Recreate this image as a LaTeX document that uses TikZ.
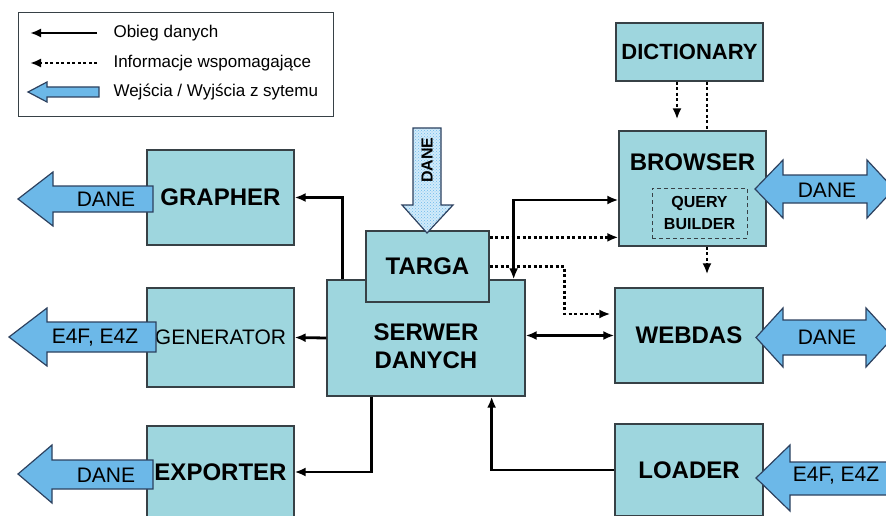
\documentclass[tikz,border=0pt]{standalone}
\usepackage{fontspec}
\setmainfont{Liberation Sans}
\usetikzlibrary{arrows.meta, patterns}

\definecolor{boxfill}{RGB}{158,214,222}
\definecolor{boxline}{RGB}{55,65,70}
\definecolor{iofill}{RGB}{108,184,232}
\definecolor{ioline}{RGB}{45,65,95}
\definecolor{iolight}{RGB}{210,235,250}
\definecolor{iodots}{RGB}{110,185,235}

\begin{document}
\begin{tikzpicture}[x=1pt, y=-1pt,
    >={Latex[length=11pt,width=9pt]},
    blocktext/.style={font=\fontsize{24}{28}\selectfont\bfseries, align=center},
    block/.style={draw=boxline, line width=1.3pt, fill=boxfill, inner sep=0pt, blocktext},
    flow/.style={line width=2.8pt, ->},
    info/.style={line width=2.8pt, dash pattern=on 3pt off 2.5pt, ->},
    io/.style={draw=ioline, line width=1.2pt, fill=iofill},
    iotext/.style={font=\fontsize{21}{24}\selectfont},
    legtext/.style={font=\fontsize{17}{20}\selectfont, anchor=west}]

    \useasboundingbox (0,0) rectangle (886,516);
    \clip (0,0) rectangle (886,516);

    % legend
    \node[draw=boxline, line width=1pt, minimum width=315pt, minimum height=104pt, inner sep=0pt] (legend) at (175.5,65) {};
    \coordinate (flowa) at (97,33);
    \coordinate (flowb) at (30,33);
    \coordinate (infoa) at (97,63);
    \coordinate (infob) at (30,63);
    \draw[flow] (flowa) -- (flowb);
    \draw[info] (infoa) -- (infob);
    \draw[io] (99,87) -- (47,87) -- (47,82) -- (28,92) -- (47,102) -- (47,97) -- (99,97) -- cycle;
    \node[legtext] (legflow) at (110,33) {Obieg danych};
    \node[legtext] (leginfo) at (110,63) {Informacje wspomagające};
    \node[legtext] (legio) at (110,92) {Wejścia / Wyjścia z sytemu};

    % blocks
    \node[block, minimum width=147pt, minimum height=95pt] (grapher) at (220.5,197.5) {GRAPHER};
    \node[block, minimum width=147pt, minimum height=99pt, font=\fontsize{21}{24}\selectfont] (generator) at (220.5,337.5) {GENERATOR};
    \node[block, minimum width=147pt, minimum height=92pt] (exporter) at (220.5,472) {EXPORTER};
    \node[block, minimum width=198pt, minimum height=116pt, label={[blocktext, yshift=-8pt]center:SERWER\\DANYCH}] (serwer) at (426,338) {};
    \node[block, minimum width=123pt, minimum height=71pt] (targa) at (427.5,266.5) {TARGA};
    \node[block, minimum width=147pt, minimum height=58pt, font=\fontsize{22}{26}\selectfont\bfseries] (dictionary) at (689.5,52) {DICTIONARY};
    \node[block, minimum width=147pt, minimum height=115pt, label={[blocktext, yshift=26.5pt]center:BROWSER}] (browser) at (692.5,188.5) {};
    \node[draw=boxline, dash pattern=on 4pt off 3pt, line width=1pt, minimum width=95pt, minimum height=50pt, inner sep=0pt, font=\fontsize{16}{22}\selectfont\bfseries, align=center] (query) at (699.5,213) {QUERY\\BUILDER};
    \node[block, minimum width=148pt, minimum height=95pt] (webdas) at (689,335.5) {WEBDAS};
    \node[block, minimum width=148pt, minimum height=92pt] (loader) at (689,470) {LOADER};

    % system inputs / outputs
    \draw[io] (153,186) -- (53,186) -- (53,172) -- (18,199) -- (53,226) -- (53,212) -- (153,212) -- cycle;
    \draw[io] (156,322) -- (47,322) -- (47,308) -- (9,337) -- (47,366) -- (47,352) -- (156,352) -- cycle;
    \draw[io] (153,460) -- (52,460) -- (52,445) -- (18,474) -- (52,503) -- (52,489) -- (153,489) -- cycle;
    \draw[io] (755,189) -- (783,160) -- (783,175) -- (867,175) -- (867,160) -- (894,189) -- (867,218) -- (867,203) -- (783,203) -- (783,218) -- cycle;
    \draw[io] (756,337.5) -- (783,308) -- (783,320) -- (866,320) -- (866,308) -- (893,337.5) -- (866,367) -- (866,355) -- (783,355) -- (783,367) -- cycle;
    \draw[io] (900,462) -- (790,462) -- (790,445) -- (756,478) -- (790,511) -- (790,495) -- (900,495) -- cycle;
    \draw[draw=ioline, line width=1.2pt, preaction={fill=iolight}, pattern=crosshatch dots, pattern color=iodots]
        (413,128) -- (441,128) -- (441,205) -- (453,205) -- (427,233) -- (402,205) -- (413,205) -- cycle;
    \node[iotext] (grapherio) at (106,199) {DANE};
    \node[iotext] (generatorio) at (95,338) {E4F, E4Z};
    \node[iotext] (exporterio) at (106,475) {DANE};
    \node[iotext] (browserio) at (827,190) {DANE};
    \node[iotext] (webdasio) at (827,337) {DANE};
    \node[iotext] (loaderio) at (836,476) {E4F, E4Z};
    \node[font=\fontsize{16}{18}\selectfont\bfseries, rotate=90] (targaio) at (427,160) {DANE};

    % data flow
    \draw[flow] ([xshift=16pt]serwer.north west) |- (grapher.east);
    \draw[flow] (serwer.west) -- (generator.east);
    \draw[flow] ([xshift=45pt]serwer.south west) |- (exporter.east);
    \draw[flow] (loader.west) -| ([xshift=-34pt]serwer.south east);
    \draw[flow, <->] (webdas.west -| serwer.east) -- (webdas.west);
    \draw[flow, <->] ([xshift=-12pt]serwer.north east) |- ([yshift=-11.5pt]browser.west);

    % supporting information
    \draw[info] ([yshift=-7pt]targa.north east) -- ([yshift=-7pt]targa.north east -| browser.west);
    \draw[info, shorten >=4pt] (targa.east) -- ++(75,0) |- ([yshift=21.5pt]webdas.west);
    \draw[info, shorten >=11pt] ([xshift=-12.5pt]dictionary.south) -- ([xshift=-12.5pt]dictionary.south |- browser.north);
    \draw[info, -] ([xshift=17.5pt]dictionary.south) -- ([xshift=17.5pt]dictionary.south |- browser.north);
    \draw[info, shorten >=13pt] ([xshift=14.5pt]browser.south) -- ([xshift=14.5pt]browser.south |- webdas.north);
\end{tikzpicture}
\end{document}
